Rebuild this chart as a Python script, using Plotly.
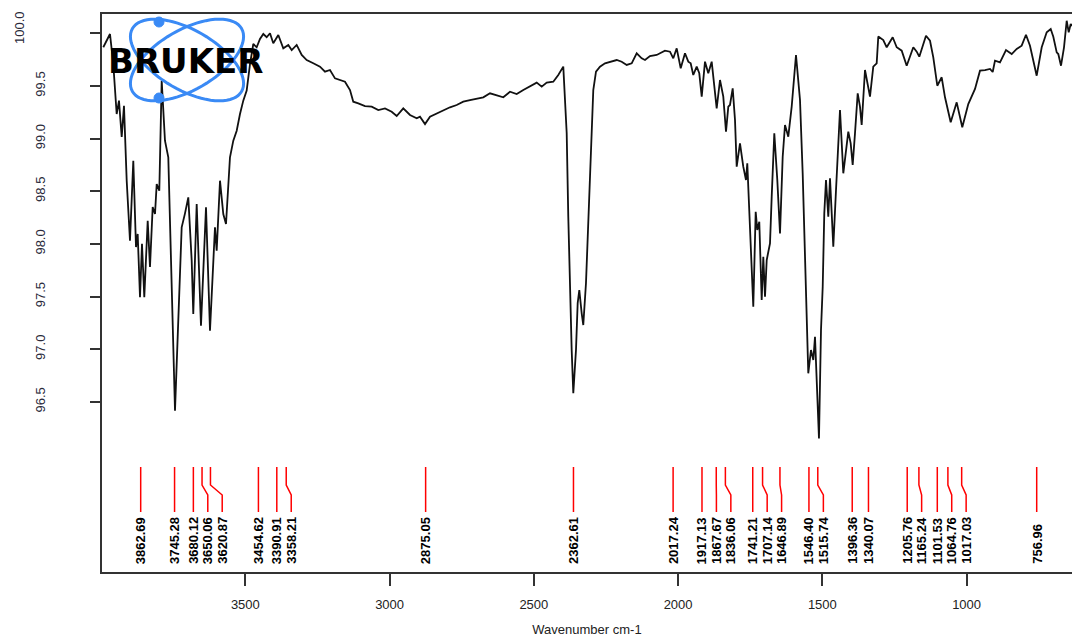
import math
import plotly.graph_objects as go

# ---------------- data ----------------
wavenumber = [
    3992.3, 3969.1, 3957.7, 3945.9, 3937.9, 3928.5, 3920.6, 3911.2, 3899.8, 3888.3,
    3879.0, 3873.1, 3865.1, 3858.2, 3850.2, 3838.4, 3830.5, 3821.1, 3813.1, 3807.2,
    3798.2, 3789.9, 3778.5, 3767.0, 3743.8, 3726.5, 3720.6, 3709.1, 3697.7, 3685.9,
    3680.4, 3668.6, 3653.7, 3636.3, 3622.5, 3605.2, 3599.3, 3587.8, 3576.4, 3567.0,
    3553.2, 3541.7, 3529.9, 3518.5, 3507.1, 3495.3, 3483.8, 3472.4, 3460.6, 3449.2,
    3437.7, 3426.0, 3414.5, 3403.1, 3385.7, 3368.4, 3351.1, 3339.3, 3322.0, 3304.6,
    3287.3, 3264.4, 3241.2, 3223.9, 3206.5, 3189.2, 3171.9, 3154.5, 3137.2, 3125.8,
    3108.4, 3085.2, 3062.0, 3039.1, 3015.9, 2992.7, 2975.3, 2952.5, 2929.2, 2906.0,
    2894.6, 2877.2, 2859.9, 2836.7, 2813.8, 2790.6, 2767.4, 2744.5, 2721.3, 2698.0,
    2675.2, 2651.9, 2628.7, 2605.8, 2582.6, 2559.4, 2536.5, 2513.3, 2490.1, 2472.7,
    2455.4, 2432.5, 2415.2, 2397.9, 2386.1, 2380.6, 2374.7, 2368.8, 2363.2, 2353.9,
    2348.0, 2342.4, 2334.1, 2328.6, 2319.2, 2311.2, 2302.9, 2293.9, 2284.5, 2270.7,
    2253.3, 2236.0, 2212.8, 2195.5, 2178.1, 2160.8, 2143.5, 2126.1, 2114.7, 2097.4,
    2074.1, 2062.7, 2045.4, 2028.0, 2016.6, 2004.8, 1990.9, 1976.0, 1964.6, 1956.3,
    1947.3, 1935.5, 1926.5, 1918.1, 1906.7, 1895.3, 1883.5, 1866.2, 1854.7, 1843.3,
    1833.9, 1825.9, 1820.1, 1810.7, 1802.7, 1796.8, 1785.4, 1774.0, 1764.6, 1760.1,
    1750.7, 1739.3, 1731.0, 1725.4, 1718.5, 1710.2, 1704.6, 1698.7, 1692.8, 1681.4,
    1675.5, 1666.5, 1656.1, 1646.7, 1637.4, 1629.4, 1618.0, 1606.2, 1591.3, 1577.4,
    1568.1, 1560.1, 1554.2, 1548.7, 1539.3, 1531.3, 1525.4, 1519.5, 1511.6, 1504.6,
    1498.7, 1493.2, 1487.3, 1479.3, 1473.4, 1467.5, 1462.0, 1452.6, 1438.8, 1427.3,
    1410.0, 1401.7, 1394.8, 1386.8, 1377.4, 1369.5, 1363.6, 1352.1, 1340.7, 1334.8,
    1323.4, 1311.6, 1306.0, 1288.7, 1276.9, 1256.1, 1242.2, 1224.9, 1207.6, 1184.7,
    1172.9, 1163.9, 1140.7, 1126.8, 1115.4, 1101.5, 1086.3, 1074.8, 1055.1, 1034.3,
    1014.9, 994.1, 970.8, 953.5, 936.2, 918.8, 909.5, 901.5, 884.2, 863.4,
    843.6, 826.3, 809.0, 794.1, 780.2, 768.8, 757.0, 739.6, 722.3, 708.4,
    699.4, 687.6, 682.1, 672.7, 662.3, 653.0, 646.0, 639.1, 634.6,
]
transmittance = [
    99.867, 99.993, 99.708, 99.233, 99.360, 99.015, 99.312, 98.600, 98.030, 98.790,
    97.970, 98.094, 97.493, 98.000, 97.493, 98.220, 97.780, 98.350, 98.284, 98.569,
    98.505, 99.550, 98.980, 98.822, 96.416, 97.650, 98.157, 98.290, 98.442, 97.840,
    97.334, 98.379, 97.223, 98.347, 97.175, 98.157, 97.935, 98.600, 98.284, 98.189,
    98.822, 98.980, 99.075, 99.233, 99.360, 99.455, 99.708, 99.898, 99.867, 99.946,
    99.993, 99.962, 100.000, 99.905, 99.984, 99.857, 99.889, 99.841, 99.889, 99.794,
    99.746, 99.715, 99.683, 99.635, 99.651, 99.572, 99.556, 99.540, 99.461, 99.350,
    99.335, 99.309, 99.303, 99.271, 99.287, 99.255, 99.214, 99.287, 99.224, 99.192,
    99.208, 99.138, 99.208, 99.240, 99.271, 99.297, 99.319, 99.350, 99.366, 99.382,
    99.392, 99.430, 99.414, 99.392, 99.445, 99.423, 99.461, 99.493, 99.531, 99.493,
    99.531, 99.540, 99.604, 99.683, 99.053, 98.258, 97.467, 96.992, 96.581, 96.992,
    97.438, 97.562, 97.341, 97.229, 97.628, 98.258, 98.891, 99.461, 99.635, 99.683,
    99.715, 99.730, 99.746, 99.730, 99.699, 99.715, 99.810, 99.762, 99.746, 99.784,
    99.794, 99.810, 99.835, 99.825, 99.762, 99.857, 99.667, 99.810, 99.730, 99.715,
    99.604, 99.683, 99.620, 99.398, 99.730, 99.620, 99.730, 99.287, 99.556, 99.398,
    99.065, 99.303, 99.319, 99.477, 99.176, 98.733, 98.955, 98.733, 98.607, 98.765,
    98.132, 97.403, 98.305, 98.132, 98.211, 97.467, 97.878, 97.498, 97.847, 98.005,
    98.448, 99.050, 98.607, 98.100, 98.828, 99.129, 99.018, 99.303, 99.794, 99.366,
    98.670, 97.910, 97.403, 96.771, 96.992, 96.897, 97.118, 96.771, 96.153, 97.182,
    97.593, 98.290, 98.607, 98.258, 98.623, 98.290, 97.973, 98.512, 99.271, 98.670,
    99.065, 98.955, 98.749, 99.050, 99.430, 99.303, 99.129, 99.651, 99.493, 99.398,
    99.683, 99.715, 99.970, 99.936, 99.867, 99.962, 99.867, 99.835, 99.692, 99.867,
    99.825, 99.778, 99.977, 99.929, 99.772, 99.502, 99.582, 99.392, 99.155, 99.344,
    99.107, 99.328, 99.471, 99.645, 99.651, 99.661, 99.632, 99.740, 99.724, 99.841,
    99.803, 99.851, 99.882, 99.986, 99.882, 99.740, 99.597, 99.867, 100.009, 100.041,
    99.967, 99.819, 99.803, 99.692, 99.867, 100.119, 100.009, 100.088, 100.069,
]

peak_wavenumbers = [
    3862.69, 3745.28, 3680.12, 3650.06, 3620.87, 3454.62, 3390.91, 3358.21,
    2875.05, 2362.61, 2017.24, 1917.13, 1867.67, 1836.06, 1741.21, 1707.14,
    1646.89, 1546.40, 1515.74, 1396.36, 1340.07, 1205.76, 1165.24, 1101.53,
    1064.76, 1017.03, 756.96,
]
peak_labels = [
    "3862.69", "3745.28", "3680.12", "3650.06", "3620.87", "3454.62", "3390.91", "3358.21",
    "2875.05", "2362.61", "2017.24", "1917.13", "1867.67", "1836.06", "1741.21", "1707.14",
    "1646.89", "1546.40", "1515.74", "1396.36", "1340.07", "1205.76", "1165.24", "1101.53",
    "1064.76", "1017.03", "756.96",
]

x_tick_values = [3500, 3000, 2500, 2000, 1500, 1000]
x_tick_labels = ["3500", "3000", "2500", "2000", "1500", "1000"]
y_tick_values = [96.5, 97.0, 97.5, 98.0, 98.5, 99.0, 99.5, 100.0]
y_tick_labels = ["96.5", "97.0", "97.5", "98.0", "98.5", "99.0", "99.5", ""]
top_tick_label = "100.0"

x_title = "Wavenumber cm-1"
logo_text = "BRUKER"

# ---------------- layout constants ----------------
W, H = 1072, 637
ML, MR, MT, MB = 102, 0, 14, 65
PW, PH = W - ML - MR, H - MT - MB
X_RANGE = [3996.8, 634.6]
Y_RANGE = [94.884, 100.183]
FONT = "Liberation Sans"


def paper(px, py):
    return (px - ML) / PW, (H - MB - py) / PH


fig = go.Figure()
fig.add_trace(go.Scatter(
    x=wavenumber, y=transmittance, mode="lines",
    line=dict(color="#111111", width=1.8),
    hoverinfo="x+y", showlegend=False,
))

shapes = []
annotations = []

# ---- peak markers: red leader lines + rotated labels ----
min_sep = 50.0  # cm-1 between neighbouring labels
label_pos = []
prev = None
for p in peak_wavenumbers:
    pos = p if prev is None else min(p, prev - min_sep)
    label_pos.append(pos)
    prev = pos

y_top, y_b1, y_b2, y_bot = paper(0, 467)[1], paper(0, 485)[1], paper(0, 495)[1], paper(0, 512)[1]
y_lab = paper(0, 566)[1]
for p, lp, txt in zip(peak_wavenumbers, label_pos, peak_labels):
    shapes.append(dict(
        type="path", xref="x", yref="paper",
        path=f"M {p},{y_top} L {p},{y_b1} L {lp},{y_b2} L {lp},{y_bot}",
        line=dict(color="#ff0000", width=1.5), layer="above",
    ))
    annotations.append(dict(
        x=lp, y=y_lab, xref="x", yref="paper", text=f"<b>{txt}</b>", showarrow=False,
        textangle=-90, xanchor="center", yanchor="bottom",
        font=dict(family=FONT, size=13, color="#000000"),
    ))

# ---- top y tick label placed like the reference ----
tx, ty = paper(19, 28)
annotations.append(dict(
    x=tx, y=ty, xref="paper", yref="paper", text=top_tick_label, showarrow=False,
    textangle=-90, xanchor="center", yanchor="middle",
    font=dict(family=FONT, size=13, color="#2a2a3a"),
))

# ---- Bruker logo ----
blue = "#3a8af5"
cx, cy, a, b = 187, 60, 63, 30
for ang in (30, -30):
    th = math.radians(ang)
    pts = []
    for i in range(73):
        t = 2 * math.pi * i / 72
        px = cx + a * math.cos(t) * math.cos(th) - b * math.sin(t) * math.sin(th)
        py = cy + a * math.cos(t) * math.sin(th) + b * math.sin(t) * math.cos(th)
        pts.append(paper(px, py))
    path = "M " + " L ".join(f"{x:.5f},{y:.5f}" for x, y in pts) + " Z"
    shapes.append(dict(type="path", xref="paper", yref="paper", path=path,
                       line=dict(color=blue, width=3), layer="above"))
for (dx, dy) in ((159, 22), (159, 98)):
    r = 5
    x0, y0 = paper(dx - r, dy + r)
    x1, y1 = paper(dx + r, dy - r)
    shapes.append(dict(type="circle", xref="paper", yref="paper",
                       x0=x0, y0=y0, x1=x1, y1=y1,
                       fillcolor=blue, line=dict(color=blue, width=1), layer="above"))
lx, ly = paper(185, 61)
annotations.append(dict(
    x=lx, y=ly, xref="paper", yref="paper", text=f"<b>{logo_text}</b>",
    showarrow=False, xanchor="center", yanchor="middle",
    font=dict(family="DejaVu Sans", size=34, color="#000000"),
))

fig.update_layout(
    width=W, height=H,
    margin=dict(l=ML, r=MR, t=MT, b=MB, pad=0),
    paper_bgcolor="white", plot_bgcolor="white",
    font=dict(family=FONT, size=13, color="#222222"),
    showlegend=False,
    shapes=shapes, annotations=annotations,
    xaxis=dict(
        range=X_RANGE, tickvals=x_tick_values, ticktext=x_tick_labels,
        showgrid=False, zeroline=False,
        showline=True, linecolor="#333333", linewidth=2, mirror=True,
        ticks="outside", ticklen=12, tickwidth=1.5, tickcolor="#333333",
        ticklabelstandoff=7,
        tickfont=dict(family=FONT, size=13, color="#222222"),
        title=dict(text=x_title, font=dict(family=FONT, size=13, color="#222222"), standoff=15),
        automargin=False,
    ),
    yaxis=dict(
        range=Y_RANGE, tickvals=y_tick_values, ticktext=y_tick_labels,
        showgrid=False, zeroline=False,
        showline=True, linecolor="#333333", linewidth=2, mirror=False,
        ticks="outside", ticklen=10, tickwidth=1.5, tickcolor="#333333",
        tickangle=-90, ticklabelstandoff=40,
        tickfont=dict(family=FONT, size=13, color="#2a2a3a"),
        automargin=False,
    ),
)

fig.write_html(
    "out.html",
    config={"displayModeBar": False},
    post_script="document.body.style.margin='0';document.documentElement.style.overflow='hidden';",
)
